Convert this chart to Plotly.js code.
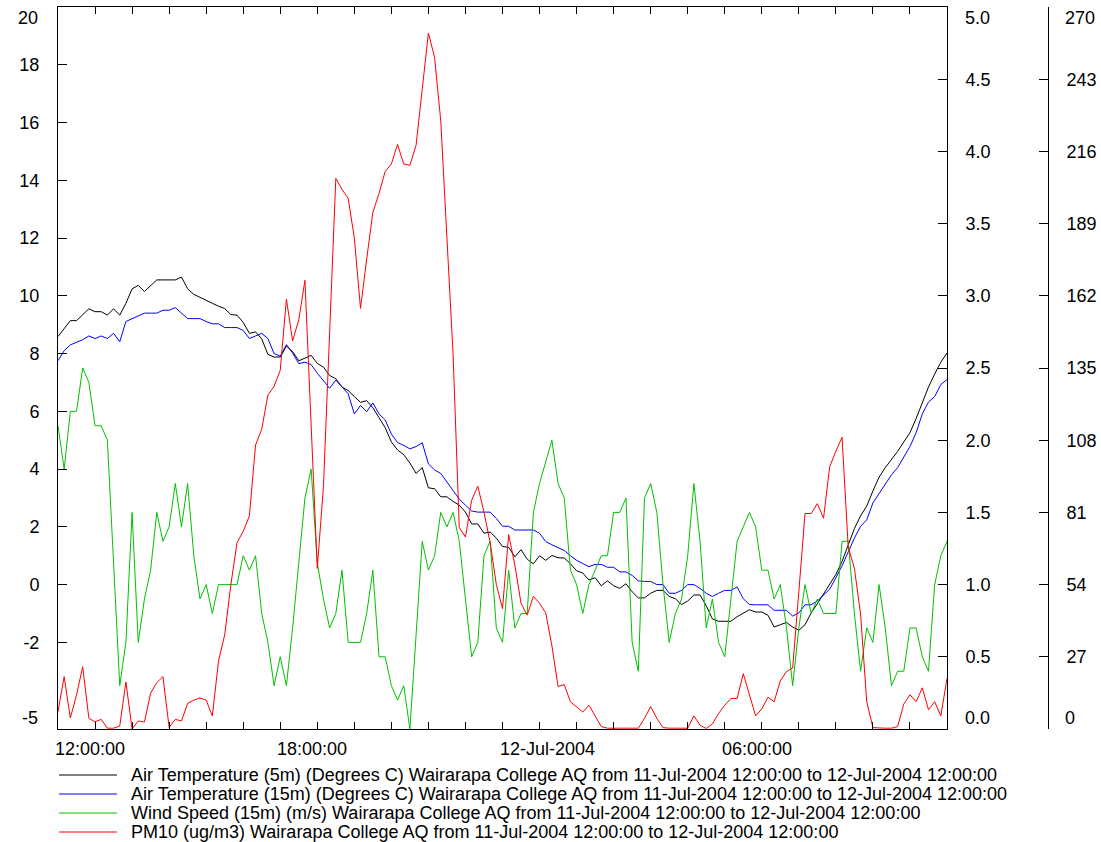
<!DOCTYPE html>
<html>
<head>
<meta charset="utf-8">
<script src="https://cdn.plot.ly/plotly-3.0.1.min.js"></script>
<style>html,body{margin:0;padding:0;background:#fff;}#chart{width:1101px;height:842px;}</style>
</head>
<body>
<div id="chart"></div>
<script>
// 10-minute samples, 11-Jul-2004 12:00 to 12-Jul-2004 12:00
const startTime = Date.UTC(2004, 6, 11, 12, 0);
const stepMinutes = 10;

const airTemp5m = [8.59, 8.86, 9.14, 9.14, 9.35, 9.55, 9.45, 9.45, 9.33, 9.55,
 9.33, 9.74, 10.24, 10.36, 10.15, 10.36, 10.55, 10.55, 10.55, 10.55,
 10.65, 10.24, 10.05, 9.94, 9.84, 9.74, 9.64, 9.56, 9.35, 9.33,
 9.08, 8.70, 8.75, 8.51, 7.97, 7.88, 7.88, 8.26, 8.07, 7.75,
 7.84, 7.94, 7.66, 7.53, 7.24, 7.13, 6.84, 6.72, 6.51, 6.31,
 6.37, 6.12, 5.78, 5.43, 4.94, 4.66, 4.50, 4.21, 3.85, 4.05,
 3.35, 3.32, 3.04, 3.04, 2.88, 2.75, 2.51, 2.10, 2.10, 1.78,
 1.82, 1.61, 1.32, 1.29, 0.96, 1.21, 0.88, 0.72, 1.00, 0.84,
 1.01, 0.93, 0.92, 0.72, 0.48, 0.40, 0.16, 0.24, -0.04, 0.13,
 -0.04, -0.13, 0.03, -0.25, -0.46, -0.46, -0.30, -0.20, -0.20, -0.41,
 -0.49, -0.69, -0.57, -0.36, -0.36, -0.73, -1.19, -1.27, -1.27, -1.27,
 -1.11, -0.98, -0.87, -0.95, -0.95, -1.06, -1.47, -1.39, -1.31, -1.47,
 -1.58, -1.39, -0.98, -0.66, -0.33, 0.00, 0.35, 0.80, 1.37, 1.94,
 2.38, 2.72, 3.24, 3.72, 4.05, 4.32, 4.61, 4.94, 5.26, 5.75,
 6.32, 6.84, 7.29, 7.70, 8.02];

const airTemp15m = [7.75, 8.10, 8.30, 8.39, 8.48, 8.61, 8.52, 8.61, 8.52, 8.70,
 8.41, 9.11, 9.21, 9.30, 9.40, 9.40, 9.40, 9.50, 9.50, 9.59,
 9.40, 9.21, 9.21, 9.21, 9.11, 9.03, 9.03, 8.90, 8.90, 8.90,
 8.80, 8.52, 8.61, 8.70, 8.52, 8.00, 7.91, 8.31, 8.02, 7.65,
 7.70, 7.62, 7.32, 7.05, 6.80, 7.08, 6.84, 6.61, 5.91, 6.20,
 5.99, 6.29, 5.91, 5.70, 5.21, 4.92, 4.82, 4.70, 4.78, 4.91,
 4.18, 3.97, 3.85, 3.56, 3.24, 2.96, 2.75, 2.55, 2.51, 2.51,
 2.51, 2.29, 2.02, 2.02, 1.89, 1.89, 1.89, 1.89, 1.78, 1.49,
 1.38, 1.29, 1.18, 1.00, 0.84, 0.73, 0.62, 0.70, 0.70, 0.60,
 0.60, 0.44, 0.44, 0.32, 0.13, 0.11, 0.11, 0.00, 0.00, -0.30,
 -0.30, -0.20, 0.00, 0.00, -0.13, -0.30, -0.41, -0.30, -0.20, -0.20,
 -0.08, -0.49, -0.69, -0.70, -0.70, -0.70, -0.89, -0.89, -0.89, -1.09,
 -0.98, -0.70, -0.70, -0.57, -0.36, -0.16, 0.24, 0.65, 1.13, 1.61,
 2.02, 2.24, 2.83, 3.16, 3.48, 3.80, 4.05, 4.40, 4.78, 5.26,
 5.91, 6.32, 6.51, 6.93, 7.10];

const windSpeed15m = [2.1, 1.8, 2.2, 2.2, 2.5, 2.4, 2.1, 2.1, 2.0, 1.15,
 0.3, 0.6, 1.5, 0.6, 0.9, 1.1, 1.5, 1.3, 1.4, 1.7,
 1.4, 1.7, 1.2, 0.9, 1.0, 0.8, 1.0, 1.0, 1.0, 1.0,
 1.2, 1.1, 1.2, 0.8, 0.6, 0.3, 0.5, 0.3, 0.7, 1.15,
 1.6, 1.8, 1.15, 0.9, 0.7, 0.8, 1.1, 0.6, 0.6, 0.6,
 0.8, 1.1, 0.5, 0.5, 0.3, 0.2, 0.3, 0.0, 0.65, 1.3,
 1.1, 1.2, 1.5, 1.4, 1.5, 1.3, 0.9, 0.5, 0.6, 1.2,
 1.3, 0.7, 0.6, 1.1, 0.7, 0.8, 0.8, 1.5, 1.7, 1.85,
 2.0, 1.7, 1.6, 1.1, 1.0, 0.8, 1.0, 1.1, 1.2, 1.2,
 1.5, 1.5, 1.6, 0.6, 0.4, 1.6, 1.7, 1.5, 1.0, 0.6,
 0.8, 0.9, 1.2, 1.7, 1.3, 0.7, 0.9, 0.6, 0.5, 0.9,
 1.3, 1.4, 1.5, 1.4, 1.1, 1.1, 0.9, 1.0, 0.7, 0.3,
 0.7, 1.0, 0.8, 0.9, 0.8, 0.8, 0.8, 1.3, 1.3, 0.8,
 0.4, 0.7, 0.6, 1.0, 0.7, 0.3, 0.4, 0.4, 0.7, 0.7,
 0.5, 0.4, 1.0, 1.2, 1.3];

const pm10 = [6.5, 19.6, 4.1, 12.7, 23.3, 4.0, 2.7, 3.6, 0.3, 0.3,
 1.1, 17.6, 0.0, 3.0, 2.6, 13.4, 17.3, 19.6, 0.6, 3.6,
 3.0, 9.6, 10.8, 11.6, 10.8, 4.9, 25.4, 35.2, 54.0, 69.7,
 73.9, 79.7, 106.2, 112.1, 124.9, 128.1, 134.2, 160.8, 145.1, 153.0,
 167.8, 114.1, 60.1, 90.8, 150.3, 205.9, 201.8, 198.5, 183.6, 157.3,
 175.7, 193.2, 200.3, 208.5, 211.3, 218.6, 211.3, 210.8, 218.3, 239.7,
 260.3, 251.1, 227.4, 183.6, 139.8, 75.3, 71.8, 85.5, 90.8, 81.1,
 69.7, 54.0, 45.0, 72.7, 61.3, 47.0, 42.6, 49.6, 47.0, 43.4,
 31.2, 15.9, 16.6, 10.2, 8.4, 6.3, 8.9, 4.9, 0.9, 0.3,
 0.3, 0.3, 0.3, 0.3, 0.3, 4.0, 8.4, 4.0, 0.5, 0.3,
 0.3, 0.3, 0.3, 4.9, 1.4, 0.2, 1.9, 5.8, 8.9, 11.4,
 11.4, 20.7, 12.8, 4.9, 7.5, 11.9, 10.2, 18.0, 21.5, 22.8,
 51.3, 80.6, 80.6, 84.3, 78.8, 98.1, 103.9, 109.1, 68.0, 60.1,
 43.0, 10.2, 0.5, 0.3, 0.3, 0.3, 0.9, 9.3, 12.8, 10.2,
 15.4, 7.2, 10.2, 4.9, 18.9];

const seriesNames = [
  'Air Temperature (5m) (Degrees C) Wairarapa College AQ from 11-Jul-2004 12:00:00 to 12-Jul-2004 12:00:00',
  'Air Temperature (15m) (Degrees C) Wairarapa College AQ from 11-Jul-2004 12:00:00 to 12-Jul-2004 12:00:00',
  'Wind Speed (15m) (m/s) Wairarapa College AQ from 11-Jul-2004 12:00:00 to 12-Jul-2004 12:00:00',
  'PM10 (ug/m3) Wairarapa College AQ from 11-Jul-2004 12:00:00 to 12-Jul-2004 12:00:00'
];
const seriesColors = ['#000000', '#0000ff', '#00c000', '#ff0000'];

const leftTicks = [-5, -2, 0, 2, 4, 6, 8, 10, 12, 14, 16, 18, 20];
const windTicks = [0, 0.5, 1, 1.5, 2, 2.5, 3, 3.5, 4, 4.5, 5];
const pmTicks = [0, 27, 54, 81, 108, 135, 162, 189, 216, 243, 270];
const xLabels = [
  {t: '2004-07-11 12:00', text: '12:00:00'},
  {t: '2004-07-11 18:00', text: '18:00:00'},
  {t: '2004-07-12 00:00', text: '12-Jul-2004'},
  {t: '2004-07-12 06:00', text: '06:00:00'}
];

function pad(n){ return (n < 10 ? '0' : '') + n; }
function fmt(ms){
  const d = new Date(ms);
  return d.getUTCFullYear() + '-' + pad(d.getUTCMonth()+1) + '-' + pad(d.getUTCDate()) + ' ' +
         pad(d.getUTCHours()) + ':' + pad(d.getUTCMinutes());
}
const times = airTemp5m.map((_, i) => fmt(startTime + i * stepMinutes * 60000));

const FONT = 'Liberation Sans, Arial, Helvetica, sans-serif';
const FS = 18;
const LEGEND_FS = 18;
const lineW = 1;

const seriesData = [airTemp5m, airTemp15m, windSpeed15m, pm10];
const seriesAxes = ['y', 'y', 'y2', 'y3'];
const traces = seriesData.map((d, k) => ({x: times, y: d, name: seriesNames[k], type: 'scatter', mode: 'lines',
  line: {color: seriesColors[k], width: lineW}, yaxis: seriesAxes[k], showlegend: false}));

function endText(arr, fmtFn){ return arr.map((v, i) => (i === 0 || i === arr.length - 1) ? '' : fmtFn(v)); }

const plotL = 58, plotT = 7, plotB = 729, plotR = 947, axis3X = 1048;
const pw = axis3X - plotL, ph = plotB - plotT;
const px = x => (x - plotL) / pw;
const py = y => (plotB - y) / ph;

const annotations = [];
const shapes = [];
xLabels.forEach(l => annotations.push({x: l.t, xref: 'x', y: py(749), yref: 'paper', text: l.text, showarrow: false,
  xanchor: 'left', yanchor: 'middle', xshift: -5, font: {family: FONT, size: FS, color: '#000'}}));
[[leftTicks, v => String(v), 40, 'right'],
 [windTicks, v => v.toFixed(1), 963, 'left'],
 [pmTicks, v => String(v), 1063, 'left']].forEach(([arr, f, xpx, anchor]) => {
  annotations.push({x: px(xpx), xref: 'paper', y: py(18), yref: 'paper', text: f(arr[arr.length-1]), showarrow: false,
    xanchor: anchor, yanchor: 'middle', font: {family: FONT, size: FS, color: '#000'}});
  annotations.push({x: px(xpx), xref: 'paper', y: py(718), yref: 'paper', text: f(arr[0]), showarrow: false,
    xanchor: anchor, yanchor: 'middle', font: {family: FONT, size: FS, color: '#000'}});
});

// legend drawn as line samples + text rows
const legendRowsY = [775, 794, 813, 832];
seriesNames.forEach((name, k) => {
  shapes.push({type: 'line', xref: 'paper', yref: 'paper', x0: px(59), x1: px(117), y0: py(legendRowsY[k]), y1: py(legendRowsY[k]),
    line: {color: seriesColors[k], width: 1}});
  annotations.push({x: px(129), xref: 'paper', y: py(legendRowsY[k]), yref: 'paper', text: name, showarrow: false,
    xanchor: 'left', yanchor: 'middle', font: {family: FONT, size: LEGEND_FS, color: '#000'}});
});

const axisCommon = {ticks: 'inside', ticklen: 9, tickcolor: '#000', tickwidth: 1, showline: true, linecolor: '#000',
  linewidth: 1, showgrid: false, zeroline: false, ticklabelstandoff: 14, tickfont: {family: FONT, size: FS, color: '#000'},
  fixedrange: true, tickmode: 'array'};

const layout = {
  width: 1101, height: 842,
  margin: {l: plotL, r: 1101 - axis3X, t: plotT, b: 842 - plotB, pad: 0},
  paper_bgcolor: '#ffffff', plot_bgcolor: '#ffffff',
  font: {family: FONT, size: FS, color: '#000000'},
  showlegend: false,
  xaxis: {type: 'date', domain: [0, (plotR - plotL) / pw], range: [times[0], times[times.length-1]],
    showgrid: false, zeroline: false, showline: true, linecolor: '#000', linewidth: 1, mirror: 'ticks',
    ticks: 'inside', ticklen: 7, tickcolor: '#000', tickwidth: 1, tick0: '2004-07-11 12:00', dtick: 3600000,
    showticklabels: false, fixedrange: true},
  yaxis: Object.assign({}, axisCommon, {range: [-5, 20], tickvals: leftTicks,
    ticktext: endText(leftTicks, v => String(v)), mirror: true}),
  yaxis2: Object.assign({}, axisCommon, {overlaying: 'y', side: 'right', anchor: 'x', range: [0, 5], tickvals: windTicks,
    ticktext: endText(windTicks, v => v.toFixed(1))}),
  yaxis3: Object.assign({}, axisCommon, {overlaying: 'y', side: 'right', anchor: 'free', position: 1, range: [0, 270],
    tickvals: pmTicks, ticktext: endText(pmTicks, v => String(v))}),
  annotations: annotations,
  shapes: shapes
};

Plotly.newPlot('chart', traces, layout, {displayModeBar: false, staticPlot: true});
</script>
</body>
</html>
